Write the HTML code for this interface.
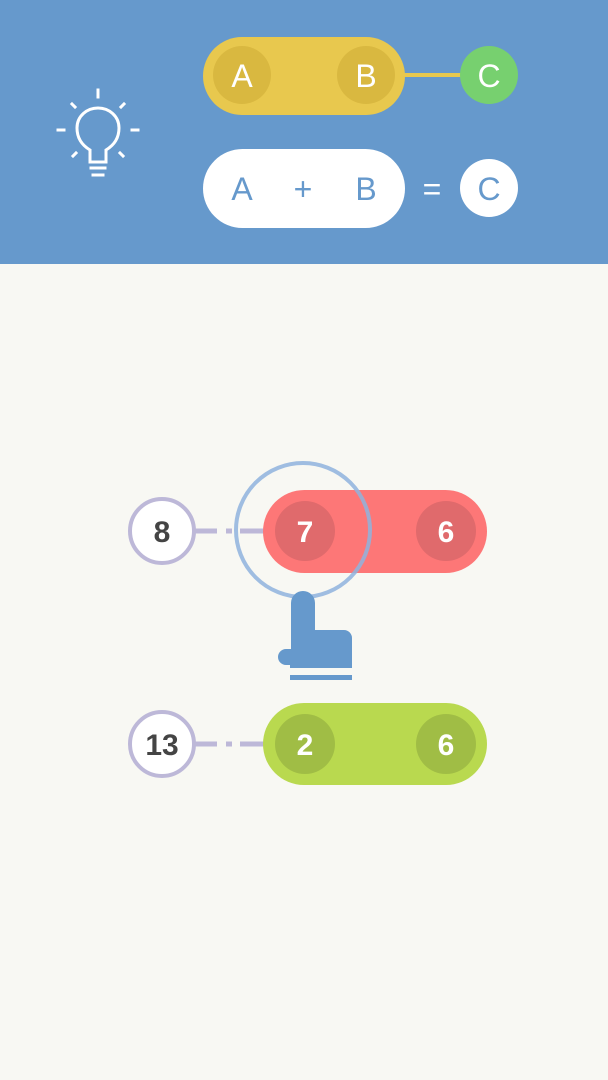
<!DOCTYPE html>
<html><head><style>
body{margin:0;width:608px;height:1080px;background:#f8f8f3;overflow:hidden;font-family:"Liberation Sans",sans-serif}
</style></head><body>
<svg width="608" height="1080" xmlns="http://www.w3.org/2000/svg" style="position:absolute;left:0;top:0">
<rect x="0" y="0" width="608" height="264" fill="#6699cc"/>
<!-- bulb -->
<g stroke="#fff" stroke-width="3" fill="none" stroke-linecap="square">
<path d="M90 162 L90 150 C80 144 77 136 77 128 C77 116 87 108 98 108 C109 108 119 116 119 128 C119 136 116 144 106 150 L106 162 Z"/>
<line x1="91" y1="168" x2="105" y2="168"/><line x1="93" y1="175" x2="103" y2="175"/>
<line x1="98" y1="90" x2="98" y2="97"/><line x1="58" y1="130" x2="64" y2="130"/><line x1="132" y1="130" x2="138" y2="130"/>
<line x1="72" y1="104" x2="75" y2="107"/><line x1="124" y1="104" x2="121" y2="107"/>
<line x1="73" y1="156" x2="76" y2="153"/><line x1="123" y1="156" x2="120" y2="153"/>
</g>
<line x1="400" y1="75" x2="465" y2="75" stroke="#e8c84e" stroke-width="4"/>
<rect x="203" y="37" width="202" height="78" rx="39" fill="#e8c84e"/>
<circle cx="242" cy="75" r="29" fill="#d9b840"/><circle cx="366" cy="75" r="29" fill="#d9b840"/>
<circle cx="489" cy="75" r="29" fill="#77d06f"/>
<g font-size="32" fill="#fff" text-anchor="middle">
<text x="242" y="87">A</text><text x="366" y="87">B</text><text x="489" y="87">C</text></g>
<rect x="203" y="149" width="202" height="79" rx="39.5" fill="#fff"/>
<circle cx="489" cy="188" r="29" fill="#fff"/>
<g font-size="32" fill="#6699cc" text-anchor="middle">
<text x="242" y="200">A</text><text x="303" y="200">+</text><text x="366" y="200">B</text><text x="432" y="200" fill="#fff">=</text><text x="489" y="200">C</text></g>
<g stroke="#bdb8d8" stroke-width="5">
<line x1="195" y1="531" x2="217" y2="531"/><line x1="226" y1="531" x2="232" y2="531"/><line x1="240" y1="531" x2="266" y2="531"/>
<line x1="195" y1="744" x2="217" y2="744"/><line x1="226" y1="744" x2="232" y2="744"/><line x1="240" y1="744" x2="266" y2="744"/>
</g>
<circle cx="162" cy="531" r="32" fill="#fff" stroke="#bdb8d8" stroke-width="4"/>
<circle cx="162" cy="744" r="32" fill="#fff" stroke="#bdb8d8" stroke-width="4"/>
<rect x="263" y="490" width="224" height="83" rx="41.5" fill="#fd7777"/>
<circle cx="305" cy="531" r="30" fill="#e06a6c"/><circle cx="446" cy="531" r="30" fill="#e06a6c"/>
<rect x="263" y="703" width="224" height="82" rx="41" fill="#b9d94f"/>
<circle cx="305" cy="744" r="30" fill="#a0bd45"/><circle cx="446" cy="744" r="30" fill="#a0bd45"/>
<g font-size="30" font-weight="bold" text-anchor="middle">
<text x="162" y="542" fill="#444">8</text><text x="162" y="755" fill="#444">13</text>
<text x="305" y="542" fill="#fff">7</text><text x="446" y="542" fill="#fff">6</text>
<text x="305" y="755" fill="#fff">2</text><text x="446" y="755" fill="#fff">6</text></g>
<circle cx="303" cy="530" r="67" fill="none" stroke="#8fb3dd" stroke-width="4" opacity="0.85"/>
<path d="M291 603 A12 12 0 0 1 315 603 L315 630 L344 630 A8 8 0 0 1 352 638 L352 668 L290 668 L290 665 L286 665 A8 8 0 0 1 286 649 L291 649 Z" fill="#6699cc"/>
<rect x="290" y="675" width="62" height="5" fill="#6699cc"/>
</svg>
</body></html>
